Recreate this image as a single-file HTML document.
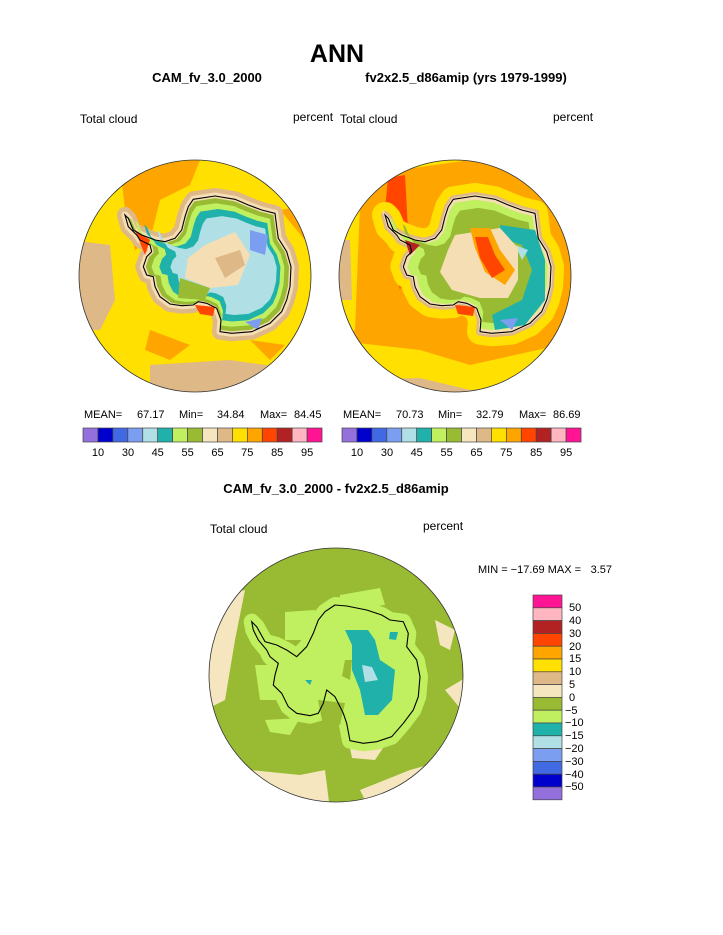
<!DOCTYPE html>
<html><head><meta charset="utf-8"><style>
html,body{margin:0;padding:0;background:#fff}
svg{display:block}
text{font-family:"Liberation Sans",sans-serif;fill:#000}
</style></head><body>
<svg width="723" height="935" viewBox="0 0 723 935" xmlns="http://www.w3.org/2000/svg">
<defs>
<clipPath id="c1"><circle cx="195" cy="276" r="116"/></clipPath>
<clipPath id="c2"><circle cx="455" cy="276" r="116"/></clipPath>
<clipPath id="c3"><circle cx="336" cy="675" r="127"/></clipPath>
<polygon id="ant" points="193.3,199.3 215,196 235,199.3 248.3,205 261.7,210 275,213.3 276.7,226.7 278.3,238.3 286.7,251.7 291,266.7 290,286.7 286.7,300 281.7,311.7 270,323.3 251.7,331.7 231.7,333.3 220,331.7 221,320 216.7,308.3 206.7,303.3 198.3,301.7 193.3,305 181.7,305.7 170,304 160,296.7 155,286.7 153.3,276.7 146.7,275 143.3,266.7 146.7,256.7 151.7,251.7 150,245 140,240 136.7,235 128.3,226.7 125,215 128.3,218.3 133.3,230 141.7,235 155,240 165,241.7 175,238.3 181.7,230 185,216.7 188.3,206.7"/>
<polygon id="ant3" points="335,605 346.7,606 366.7,610 381.7,615 390,620 403.3,621.7 408.3,633.3 406.7,646.7 416.7,660 420,676.7 418.3,696.7 413.3,710 403.3,723.3 391.7,736.7 376.7,741.7 363.3,743.3 350,740.7 346.7,723.3 343.3,713.3 335,696.7 326.7,690 323.3,703.3 318.3,713.3 310,715.7 296.7,713.3 288.3,706.7 281.7,693.3 273.3,685 275,675 278.3,663.3 270,656.7 266.7,650 258.3,640 253.3,630 251.7,621.7 256.7,626.7 265,641.7 276.7,645 286.7,650 296.7,656.7 306.7,646.7 313.3,633.3 318.3,620 325,611.7"/>
</defs>

<text x="337" y="62" font-size="25" font-weight="bold" text-anchor="middle">ANN</text>
<text x="207" y="82" font-size="13" font-weight="bold" text-anchor="middle">CAM_fv_3.0_2000</text>
<text x="466" y="82" font-size="13" font-weight="bold" text-anchor="middle">fv2x2.5_d86amip (yrs 1979-1999)</text>
<text x="80" y="123" font-size="12">Total cloud</text>
<text x="293" y="121" font-size="12">percent</text>
<text x="340" y="123" font-size="12">Total cloud</text>
<text x="553" y="121" font-size="12">percent</text>

<!-- Plot 1 -->
<g clip-path="url(#c1)">
<rect x="70" y="150" width="260" height="260" fill="#ffe000"/>
<path d="M120,165 L200,160 L190,185 L160,200 L150,240 L135,250 L125,210 Z" fill="#ffa500"/>
<path d="M70,240 L110,245 L115,300 L100,330 L70,330 Z" fill="#deb887"/>
<path d="M150,365 L230,360 L300,370 L310,400 L150,400 Z" fill="#deb887"/>
<path d="M280,160 L320,160 L320,200 L300,200 Z" fill="#deb887"/>
<path d="M150,330 L190,345 L170,360 L145,350 Z" fill="#ffa500"/>
<path d="M250,340 L285,345 L270,360 Z" fill="#ffa500"/>
<path d="M280,210 L310,205 L305,240 Z" fill="#ffa500"/>
<use href="#ant" fill="#deb887" stroke="#deb887" stroke-width="16" stroke-linejoin="round"/>
<use href="#ant" fill="#f5deb3" stroke="#f5deb3" stroke-width="7" stroke-linejoin="round"/>
<g transform="translate(225,268) scale(0.97) translate(-225,-268)"><use href="#ant" fill="#99bb33"/></g>
<g transform="translate(225,268) scale(0.9) translate(-225,-268)"><use href="#ant" fill="#c0f060"/></g>
<g transform="translate(232,268) scale(0.82) translate(-232,-268)"><use href="#ant" fill="#20b2aa"/></g>
<g transform="translate(240,268) scale(0.72) translate(-240,-268)"><use href="#ant" fill="#b0e0e6"/></g>
<path d="M250,230 L268,235 L265,255 L250,250 Z" fill="#7b9ef0"/>
<path d="M245,322 L262,318 L258,330 Z" fill="#7b9ef0"/>
<path d="M205,245 L235,232 L250,255 L238,285 L210,288 L185,278 L188,258 Z" fill="#f5deb3"/>
<path d="M215,258 L240,250 L245,265 L225,278 Z" fill="#deb887"/>
<path d="M180,278 L210,288 L205,300 L178,298 Z" fill="#99bb33"/>
<path d="M195,305 L215,307 L213,316 L200,314 Z" fill="#ff4500"/>
<path d="M135,230 L150,240 L145,255 Z" fill="#ff4500"/>
<use href="#ant" fill="none" stroke="#000" stroke-width="1.1"/>
</g>
<circle cx="195" cy="276" r="116" fill="none" stroke="#333" stroke-width="0.8"/>

<!-- Plot 2 -->
<g clip-path="url(#c2)">
<rect x="330" y="150" width="260" height="260" fill="#ffa500"/>
<path d="M330,150 L590,150 L590,200 L560,175 L470,160 L400,170 L370,190 L340,200 L330,200 Z" fill="#ffe000"/>
<path d="M330,340 L420,350 L470,365 L560,345 L590,330 L590,410 L330,410 Z" fill="#ffe000"/>
<path d="M340,200 L360,205 L355,330 L340,340 Z" fill="#ffe000"/>
<path d="M330,240 L350,240 L352,300 L330,300 Z" fill="#deb887"/>
<path d="M330,380 L420,378 L470,390 L570,380 L590,360 L590,410 L330,410 Z" fill="#deb887"/>
<path d="M388,178 L405,175 L408,230 L420,250 L400,255 L385,210 Z" fill="#ff4500"/>
<path d="M395,265 L405,270 L400,290 Z" fill="#ff4500"/>
<use href="#ant" transform="translate(260,0)" fill="#ffe000" stroke="#ffe000" stroke-width="26" stroke-linejoin="round"/>
<use href="#ant" transform="translate(260,0)" fill="#deb887" stroke="#deb887" stroke-width="8" stroke-linejoin="round"/>
<g transform="translate(260,0)">
<use href="#ant" fill="#f5deb3" stroke="#f5deb3" stroke-width="3"/>
<g transform="translate(225,268) scale(0.95) translate(-225,-268)"><use href="#ant" fill="#c0f060"/></g>
<g transform="translate(235,270) scale(0.84) translate(-235,-270)"><use href="#ant" fill="#99bb33"/></g>
<path d="M240,225 L275,230 L285,260 L285,300 L265,325 L235,330 L232,315 L262,300 L272,270 L262,245 L240,238 Z" fill="#20b2aa"/>
<path d="M255,245 L268,250 L262,260 Z" fill="#b0e0e6"/>
<path d="M240,320 L258,318 L252,330 Z" fill="#7b9ef0"/>
<path d="M195,235 L240,228 L258,248 L258,280 L248,298 L220,298 L192,290 L180,272 L188,250 Z" fill="#f5deb3"/>
<path d="M210,228 L230,228 L240,250 L255,270 L245,285 L225,272 L215,248 Z" fill="#ffa500"/>
<path d="M215,237 L228,237 L235,255 L245,270 L232,278 L220,258 Z" fill="#ff4500"/>
<path d="M195,305 L215,307 L213,316 L198,314 Z" fill="#ff4500"/>
<path d="M145,240 L160,245 L150,255 Z" fill="#b22222"/>
<use href="#ant" fill="none" stroke="#000" stroke-width="1.1"/>
</g>
</g>
<circle cx="455" cy="276" r="116" fill="none" stroke="#333" stroke-width="0.8"/>

<!-- stats -->
<g font-size="11">
<text x="84" y="418">MEAN=</text><text x="137" y="418">67.17</text><text x="179" y="418">Min=</text><text x="217" y="418">34.84</text><text x="260" y="418">Max=</text><text x="294" y="418">84.45</text>
<text x="343" y="418">MEAN=</text><text x="396" y="418">70.73</text><text x="438" y="418">Min=</text><text x="476" y="418">32.79</text><text x="519" y="418">Max=</text><text x="553" y="418">86.69</text>
</g>
<g id="cb1" stroke="#444" stroke-width="0.7">
<rect x="83" y="428" width="14.94" height="14" fill="#9370db"/>
<rect x="97.94" y="428" width="14.94" height="14" fill="#0000cd"/>
<rect x="112.88" y="428" width="14.94" height="14" fill="#4169e1"/>
<rect x="127.82" y="428" width="14.94" height="14" fill="#7b9ef0"/>
<rect x="142.76" y="428" width="14.94" height="14" fill="#b0e0e6"/>
<rect x="157.7" y="428" width="14.94" height="14" fill="#20b2aa"/>
<rect x="172.64" y="428" width="14.94" height="14" fill="#c0f060"/>
<rect x="187.58" y="428" width="14.94" height="14" fill="#99bb33"/>
<rect x="202.52" y="428" width="14.94" height="14" fill="#f5e6c0"/>
<rect x="217.46" y="428" width="14.94" height="14" fill="#deb887"/>
<rect x="232.4" y="428" width="14.94" height="14" fill="#ffe000"/>
<rect x="247.34" y="428" width="14.94" height="14" fill="#ffa500"/>
<rect x="262.28" y="428" width="14.94" height="14" fill="#ff4500"/>
<rect x="277.22" y="428" width="14.94" height="14" fill="#b22222"/>
<rect x="292.16" y="428" width="14.94" height="14" fill="#ffb6c1"/>
<rect x="307.1" y="428" width="14.94" height="14" fill="#ff1493"/>
</g>
<use href="#cb1" transform="translate(259,0)"/>
<g font-size="11" text-anchor="middle">
<text x="98" y="456">10</text><text x="128" y="456">30</text><text x="157.7" y="456">45</text><text x="187.6" y="456">55</text><text x="217.5" y="456">65</text><text x="247.3" y="456">75</text><text x="277.2" y="456">85</text><text x="307.1" y="456">95</text>
<text x="357" y="456">10</text><text x="387" y="456">30</text><text x="416.7" y="456">45</text><text x="446.6" y="456">55</text><text x="476.5" y="456">65</text><text x="506.3" y="456">75</text><text x="536.2" y="456">85</text><text x="566.1" y="456">95</text>
</g>

<text x="336" y="493" font-size="13" font-weight="bold" text-anchor="middle">CAM_fv_3.0_2000 - fv2x2.5_d86amip</text>
<text x="210" y="533" font-size="12">Total cloud</text>
<text x="423" y="530" font-size="12">percent</text>
<text x="478" y="573" font-size="11">MIN = −17.69 MAX =</text>
<text x="612" y="573" font-size="11" text-anchor="end">3.57</text>

<!-- Plot 3 -->
<g clip-path="url(#c3)">
<rect x="205" y="545" width="265" height="265" fill="#99bb33"/>
<path d="M205,600 L245,590 L235,640 L225,700 L205,710 Z" fill="#f5e6c0"/>
<path d="M250,770 L300,775 L325,770 L330,810 L250,810 Z" fill="#f5e6c0"/>
<path d="M360,790 L410,770 L445,760 L470,720 L470,810 L370,810 Z" fill="#f5e6c0"/>
<path d="M445,690 L470,675 L470,720 Z" fill="#f5e6c0"/>
<path d="M435,620 L455,630 L450,650 L440,645 Z" fill="#f5e6c0"/>
<path d="M350,748 L385,745 L375,760 L352,758 Z" fill="#f5e6c0"/>
<path d="M340,595 L380,588 L385,605 L340,610 Z" fill="#c0f060"/>
<path d="M285,612 L315,610 L310,640 L285,640 Z" fill="#c0f060"/>
<path d="M255,665 L275,665 L280,700 L260,700 Z" fill="#c0f060"/>
<path d="M265,720 L300,718 L290,735 L270,732 Z" fill="#c0f060"/>
<use href="#ant3" fill="#c0f060" stroke="#c0f060" stroke-width="16" stroke-linejoin="round"/>
<path d="M318,700 L345,703 L340,725 L322,720 Z" fill="#99bb33"/>
<path d="M345,660 L352,660 L350,680 L342,676 Z" fill="#99bb33"/>
<path d="M345,630 L368,630 L375,640 L380,660 L395,670 L392,700 L378,715 L365,715 L360,690 L352,670 L352,645 Z" fill="#20b2aa"/>
<path d="M362,665 L372,667 L378,680 L365,682 Z" fill="#b0e0e6"/>
<path d="M390,632 L398,632 L396,640 L389,639 Z" fill="#20b2aa"/>
<path d="M305,680 L312,680 L310,685 Z" fill="#20b2aa"/>
<use href="#ant3" fill="none" stroke="#000" stroke-width="1.1"/>
</g>
<circle cx="336" cy="675" r="127" fill="none" stroke="#333" stroke-width="0.8"/>

<!-- vertical colorbar -->
<g stroke="#444" stroke-width="0.7">
<rect x="533" y="595" width="29" height="12.8" fill="#ff1493"/>
<rect x="533" y="607.8" width="29" height="12.8" fill="#ffb6c1"/>
<rect x="533" y="620.6" width="29" height="12.8" fill="#b22222"/>
<rect x="533" y="633.4" width="29" height="12.8" fill="#ff4500"/>
<rect x="533" y="646.2" width="29" height="12.8" fill="#ffa500"/>
<rect x="533" y="659" width="29" height="12.8" fill="#ffe000"/>
<rect x="533" y="671.8" width="29" height="12.8" fill="#deb887"/>
<rect x="533" y="684.6" width="29" height="12.8" fill="#f5e6c0"/>
<rect x="533" y="697.4" width="29" height="12.8" fill="#99bb33"/>
<rect x="533" y="710.2" width="29" height="12.8" fill="#c0f060"/>
<rect x="533" y="723" width="29" height="12.8" fill="#20b2aa"/>
<rect x="533" y="735.8" width="29" height="12.8" fill="#b0e0e6"/>
<rect x="533" y="748.6" width="29" height="12.8" fill="#7b9ef0"/>
<rect x="533" y="761.4" width="29" height="12.8" fill="#4169e1"/>
<rect x="533" y="774.2" width="29" height="12.8" fill="#0000cd"/>
<rect x="533" y="787" width="29" height="12.8" fill="#9370db"/>
</g>
<g font-size="11">
<text x="569" y="611">50</text><text x="569" y="624">40</text><text x="569" y="637">30</text><text x="569" y="650">20</text><text x="569" y="662">15</text><text x="569" y="675">10</text><text x="569" y="688">5</text><text x="569" y="701">0</text>
<text x="565" y="714">−5</text><text x="565" y="726">−10</text><text x="565" y="739">−15</text><text x="565" y="752">−20</text><text x="565" y="765">−30</text><text x="565" y="778">−40</text><text x="565" y="790">−50</text>
</g>
</svg>
</body></html>
